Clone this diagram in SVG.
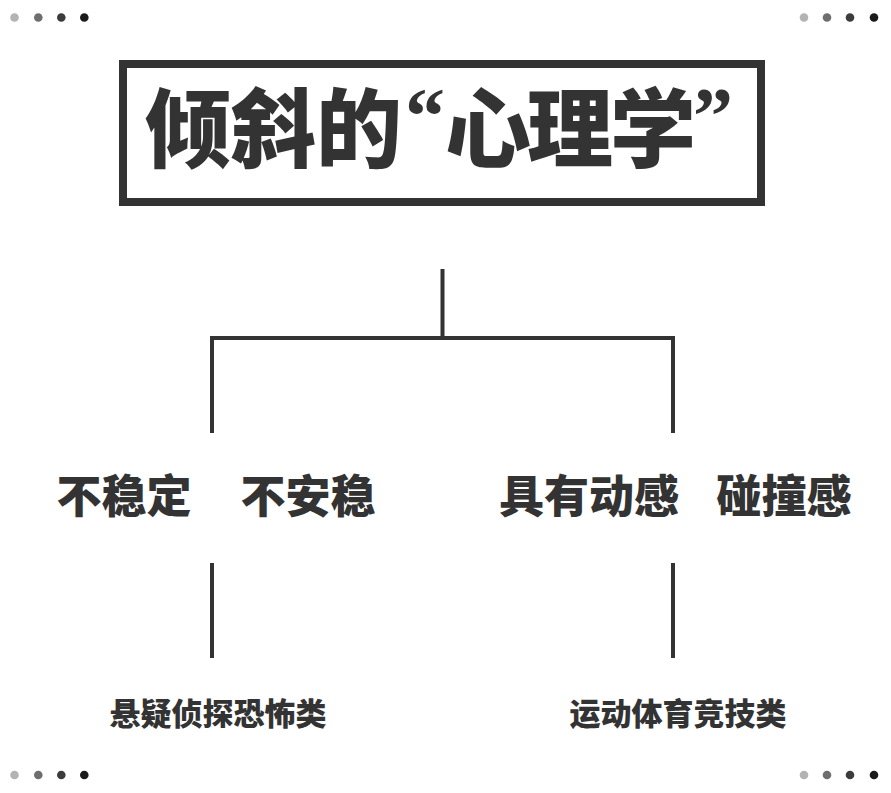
<svg xmlns="http://www.w3.org/2000/svg" width="891" height="793" viewBox="0 0 891 793">
<style>
text{font-family:"Noto Sans CJK SC","Noto Sans CJK JP",sans-serif;font-weight:900;fill:#333;text-anchor:middle}
.t{font-size:86px}
.q{font-family:"Liberation Serif","DejaVu Serif",serif;font-weight:700;font-size:80px}
.m{font-size:45px}
.s{font-size:31px}
.ln{stroke:#333;stroke-width:4;fill:none}
.d1{fill:#b3b3b3}.d2{fill:#6e6e6e}.d3{fill:#3c3c3c}.d4{fill:#1a1a1a}
</style>
<rect width="891" height="793" fill="#fff"/>
<g id="dots">
<circle class="d1" cx="14.5" cy="17.5" r="4.3"/><circle class="d2" cx="38.3" cy="17.5" r="4.3"/><circle class="d3" cx="61.3" cy="17.5" r="4.3"/><circle class="d4" cx="84.3" cy="17.5" r="4.3"/>
<circle class="d1" cx="804" cy="17.5" r="4.3"/><circle class="d2" cx="827" cy="17.5" r="4.3"/><circle class="d3" cx="850" cy="17.5" r="4.3"/><circle class="d4" cx="874" cy="17.5" r="4.3"/>
<circle class="d1" cx="14.5" cy="775" r="4.3"/><circle class="d2" cx="38.3" cy="775" r="4.3"/><circle class="d3" cx="61.3" cy="775" r="4.3"/><circle class="d4" cx="84.3" cy="775" r="4.3"/>
<circle class="d1" cx="804" cy="775" r="4.3"/><circle class="d2" cx="827" cy="775" r="4.3"/><circle class="d3" cx="850" cy="775" r="4.3"/><circle class="d4" cx="874" cy="775" r="4.3"/>
</g>
<g id="title">
<rect x="123" y="64" width="638" height="138" fill="none" stroke="#333" stroke-width="8"/>
<text class="t" x="188" y="161">倾</text>
<text class="t" x="273" y="161">斜</text>
<text class="t" x="359" y="161">的</text>
<text class="q" x="425" y="143">“</text>
<text class="t" x="488" y="161">心</text>
<text class="t" x="570" y="161">理</text>
<text class="t" x="653" y="161">学</text>
<text class="q" x="713" y="143">”</text>
</g>
<g id="connectors">
<path class="ln" d="M442.5 269V338M210 338H675M212 338V433M673 338V433M212 563V658M673 563V658"/>
</g>
<g id="n1"><text class="m" x="124" y="513">不稳定</text></g>
<g id="n2"><text class="m" x="308" y="513">不安稳</text></g>
<g id="n3"><text class="m" x="589" y="513">具有动感</text></g>
<g id="n4"><text class="m" x="784" y="513">碰撞感</text></g>
<g id="n5"><text class="s" x="218" y="725">悬疑侦探恐怖类</text></g>
<g id="n6"><text class="s" x="678" y="725">运动体育竞技类</text></g>
</svg>
